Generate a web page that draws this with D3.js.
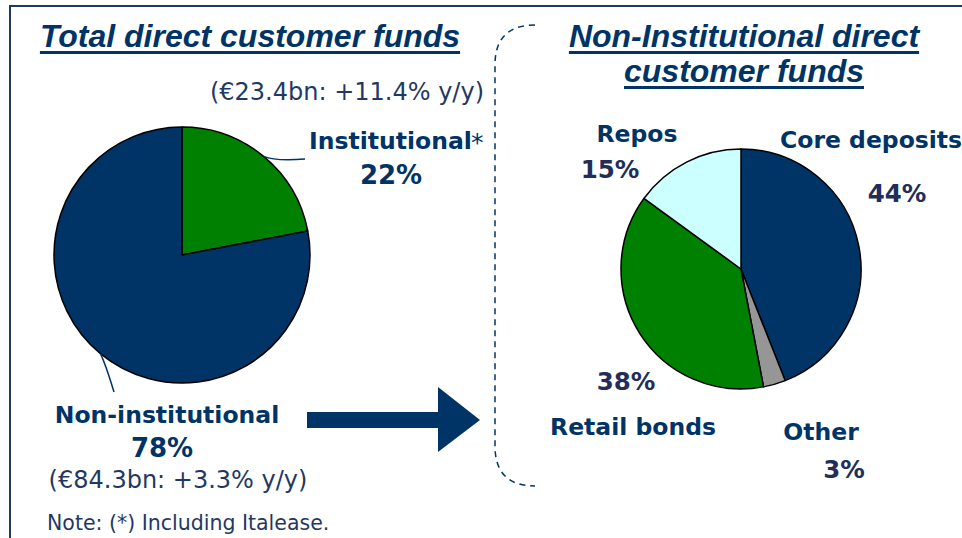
<!DOCTYPE html>
<html>
<head>
<meta charset="utf-8">
<script src="https://d3js.org/d3.v7.min.js"></script>
<style>
  body { margin: 0; background: #fff; }
  text { font-family: "DejaVu Sans", Verdana, sans-serif; }
</style>
</head>
<body>
<div id="chart"></div>
<script>
// data
var totalCats = ["Institutional", "Non-institutional"];
var totalShares = [22, 78];
var totalNotes = ["(€23.4bn: +11.4% y/y)", "(€84.3bn: +3.3% y/y)"];

var niCats = ["Core deposits", "Other", "Retail bonds", "Repos"];
var niShares = [44, 3, 38, 15];

var navy = "#003366";
var pctColor = "#222d5a";

var width = 962, height = 538;

var svg = d3.select("#chart")
  .append("svg")
    .attr("width", width)
    .attr("height", height);

// outer frame
svg.append("rect")
  .attr("x", 10).attr("y", 6)
  .attr("width", 980).attr("height", 560)
  .attr("fill", "none")
  .attr("stroke", "#1f3864")
  .attr("stroke-width", 2);

// titles (underlined)
function title(x, y, str) {
  var t = svg.append("text")
    .attr("x", x).attr("y", y)
    .attr("text-anchor", "middle")
    .attr("fill", navy)
    .style("font-family", "'Liberation Sans', Arial, sans-serif")
    .style("font-weight", "bold")
    .style("font-style", "italic")
    .style("font-size", "32px")
    .text(str);
  var w = t.node().getComputedTextLength();
  svg.append("rect")
    .attr("x", x - w / 2).attr("y", y + 4)
    .attr("width", w).attr("height", 3)
    .attr("fill", navy);
}
title(250, 47, "Total direct customer funds");
title(744, 47, "Non-Institutional direct");
title(744, 82, "customer funds");

// left pie
var pie = d3.pie().sort(null).value(function(d) { return d; });

var leftR = 128;
var leftG = svg.append("g").attr("transform", "translate(182,255)");
var leftColors = ["#008000", navy];
var arcL = d3.arc().innerRadius(0).outerRadius(leftR);

leftG.selectAll("path")
  .data(pie(totalShares))
  .enter().append("path")
    .attr("d", arcL)
    .attr("fill", function(d, i) { return leftColors[i]; })
    .attr("stroke", "#000")
    .attr("stroke-width", 1.5)
    .attr("stroke-linejoin", "round");

// leader lines
function edgeAt(frac) {
  var a = frac * 2 * Math.PI;
  return [182 + leftR * Math.sin(a), 255 - leftR * Math.cos(a)];
}
var e0 = edgeAt(0.11);
svg.append("path")
  .attr("d", "M" + e0[0] + "," + e0[1] + " Q" + (e0[0] + 12) + "," + (e0[1] + 5) + " 305,159")
  .attr("fill", "none").attr("stroke", navy).attr("stroke-width", 1.5);
var e1 = edgeAt(0.61);
svg.append("path")
  .attr("d", "M" + e1[0] + "," + e1[1] + " Q" + (e1[0] + 5) + "," + (e1[1] + 10) + " 114,392")
  .attr("fill", "none").attr("stroke", navy).attr("stroke-width", 1.5);

function label(x, y, str, opts) {
  opts = opts || {};
  return svg.append("text")
    .attr("x", x).attr("y", y)
    .attr("text-anchor", opts.anchor || "start")
    .attr("fill", opts.color || navy)
    .style("font-weight", opts.weight || "bold")
    .style("font-size", (opts.size || 23.5) + "px")
    .text(str);
}

label(309, 149, totalCats[0]);
label(471, 151, "*", {weight: "normal", size: 25});
label(391, 184, totalShares[0] + "%", {anchor: "middle", size: 26});
label(484, 100, totalNotes[0], {anchor: "end", weight: "normal", size: 24, color: "#1f3864"});

label(167, 423, totalCats[1], {anchor: "middle"});
label(162, 457, totalShares[1] + "%", {anchor: "middle", size: 26});
label(178, 488, totalNotes[1], {anchor: "middle", weight: "normal", size: 24, color: "#1f3864"});
label(47, 530, "Note: (*) Including Italease.", {weight: "normal", size: 20.5, color: "#1f3864"});

// arrow
svg.append("path")
  .attr("d", "M307,412 L438,412 L438,387 L480,420 L438,452 L438,428 L307,428 Z")
  .attr("fill", navy);

// dashed bracket
svg.append("path")
  .attr("d", "M535,25 Q495,25 495,65 L495,446 Q495,486 535,486")
  .attr("fill", "none")
  .attr("stroke", navy)
  .attr("stroke-width", 1.5)
  .attr("stroke-dasharray", "6,5");

// right pie
var rightR = 120;
var rightColors = [navy, "#969696", "#008000", "#ccffff"];
var arcR = d3.arc().innerRadius(0).outerRadius(rightR);
var rightG = svg.append("g").attr("transform", "translate(741,269)");
rightG.selectAll("path")
  .data(pie(niShares))
  .enter().append("path")
    .attr("d", arcR)
    .attr("fill", function(d, i) { return rightColors[i]; })
    .attr("stroke", "#000")
    .attr("stroke-width", 1.5)
    .attr("stroke-linejoin", "round");

// right labels
label(780, 148, niCats[0]);
label(897, 202, niShares[0] + "%", {anchor: "middle", size: 24.5, color: pctColor});
label(821, 440, niCats[1], {anchor: "middle"});
label(844, 478, niShares[1] + "%", {anchor: "middle", size: 24.5, color: pctColor});
label(633, 435, niCats[2], {anchor: "middle"});
label(626, 390, niShares[2] + "%", {anchor: "middle", size: 24.5, color: pctColor});
label(637, 142, niCats[3], {anchor: "middle"});
label(610, 178, niShares[3] + "%", {anchor: "middle", size: 24.5, color: pctColor});
</script>
</body>
</html>
